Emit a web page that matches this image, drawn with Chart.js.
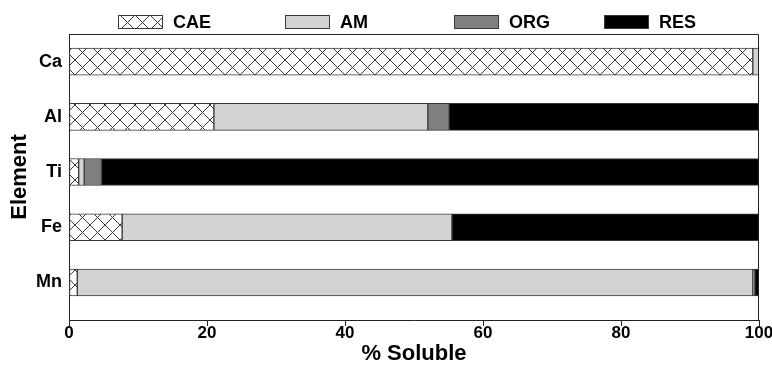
<!DOCTYPE html>
<html>
<head>
<meta charset="utf-8">
<script src="https://cdn.jsdelivr.net/npm/chart.js@4.4.1/dist/chart.umd.min.js"></script>
<style>
  html, body { margin: 0; padding: 0; background: #fff; }
  #wrap { width: 772px; height: 365px; position: relative; }
</style>
</head>
<body>
<div id="wrap"><canvas id="c" width="772" height="365"></canvas></div>
<script>
const categories = ['Ca', 'Al', 'Ti', 'Fe', 'Mn'];
const seriesNames = ['CAE', 'AM', 'ORG', 'RES'];
const caeValues = [99.1, 21.0, 1.4, 7.7, 1.2];
const amValues  = [0.9, 31.0, 0.8, 47.8, 97.9];
const orgValues = [0, 3.1, 2.5, 0, 0.3];
const resValues = [0, 44.9, 95.3, 44.5, 0.6];
const xTicks = [0, 20, 40, 60, 80, 100];

const FONT = "'Liberation Sans', Arial, Helvetica, sans-serif";

function makeHatch() {
  const s = 15;
  const cv = document.createElement('canvas');
  cv.width = s; cv.height = s;
  const g = cv.getContext('2d');
  g.fillStyle = '#ffffff';
  g.fillRect(0, 0, s, s);
  g.strokeStyle = '#3a3a3a';
  g.lineWidth = 1;
  g.beginPath();
  g.moveTo(0, 0); g.lineTo(s, s);
  g.moveTo(s, 0); g.lineTo(0, s);
  g.stroke();
  return g.createPattern(cv, 'repeat');
}
const hatch = makeHatch();

const fills = [hatch, '#d3d3d3', '#808080', '#000000'];
const seriesValues = [caeValues, amValues, orgValues, resValues];

const datasets = seriesNames.map((name, i) => ({
  label: name,
  data: seriesValues[i].map((v, k) => ({ x: v, y: k })),
  backgroundColor: fills[i],
  borderColor: '#3a3a3a',
  borderWidth: 1,
  borderSkipped: false,
  barThickness: 27
}));

const framePlugin = {
  id: 'frame',
  afterDatasetsDraw(chart) {
    const a = chart.chartArea, ctx = chart.ctx;
    ctx.save();
    ctx.strokeStyle = '#222';
    ctx.lineWidth = 1;
    ctx.beginPath();
    ctx.moveTo(a.left, a.top + 0.5);
    ctx.lineTo(a.right - 0.5, a.top + 0.5);
    ctx.lineTo(a.right - 0.5, a.bottom);
    ctx.stroke();
    ctx.restore();
  }
};

const legendPos = [118, 285, 454, 604];
const legendPlugin = {
  id: 'customLegend',
  afterDraw(chart) {
    const ctx = chart.ctx;
    ctx.save();
    chart.data.datasets.forEach((ds, i) => {
      const x = legendPos[i], y = 15, w = 45, h = 14;
      ctx.fillStyle = ds.backgroundColor;
      ctx.fillRect(x, y, w, h);
      ctx.strokeStyle = '#3a3a3a';
      ctx.lineWidth = 1;
      ctx.strokeRect(x + 0.5, y + 0.5, w - 1, h - 1);
      ctx.fillStyle = '#000';
      ctx.font = "bold 18px " + FONT;
      ctx.textBaseline = 'middle';
      ctx.textAlign = 'left';
      ctx.fillText(ds.label, x + w + 10, y + h / 2 + 1);
    });
    ctx.restore();
  }
};

new Chart(document.getElementById('c'), {
  type: 'bar',
  data: { datasets },
  options: {
    indexAxis: 'y',
    responsive: false,
    animation: false,
    layout: { padding: { left: 0, right: 13, top: 34, bottom: 0 } },
    plugins: {
      legend: { display: false },
      tooltip: { enabled: false }
    },
    scales: {
      x: {
        type: 'linear',
        stacked: true,
        min: 0, max: 100,
        afterBuildTicks: s => { s.ticks = xTicks.map(v => ({ value: v })); },
        afterFit: s => { s.height = 45; },
        grid: { display: true, drawOnChartArea: false, drawTicks: true, tickLength: 6, color: '#222', lineWidth: 1 },
        border: { display: true, color: '#222', width: 1 },
        ticks: { color: '#000', padding: -3, font: { family: FONT, size: 17, weight: 'bold' } },
        title: { display: true, text: '% Soluble', color: '#000', padding: { top: 0, bottom: -2 }, font: { family: FONT, size: 22, weight: 'bold' } }
      },
      y: {
        type: 'linear',
        stacked: true,
        reverse: true,
        offset: false,
        min: -0.5,
        max: 4.68,
        afterBuildTicks: s => { s.ticks = categories.map((c, k) => ({ value: k })); },
        afterFit: s => { s.width = 69; },
        grid: { display: false, drawTicks: false },
        border: { display: true, color: '#222', width: 1 },
        ticks: { color: '#000', padding: 7, callback: v => categories[v], font: { family: FONT, size: 18, weight: 'bold' } },
        title: { display: true, text: 'Element', color: '#000', padding: { top: 7, bottom: 0 }, font: { family: FONT, size: 22, weight: 'bold' } }
      }
    }
  },
  plugins: [framePlugin, legendPlugin]
});
</script>
</body>
</html>
